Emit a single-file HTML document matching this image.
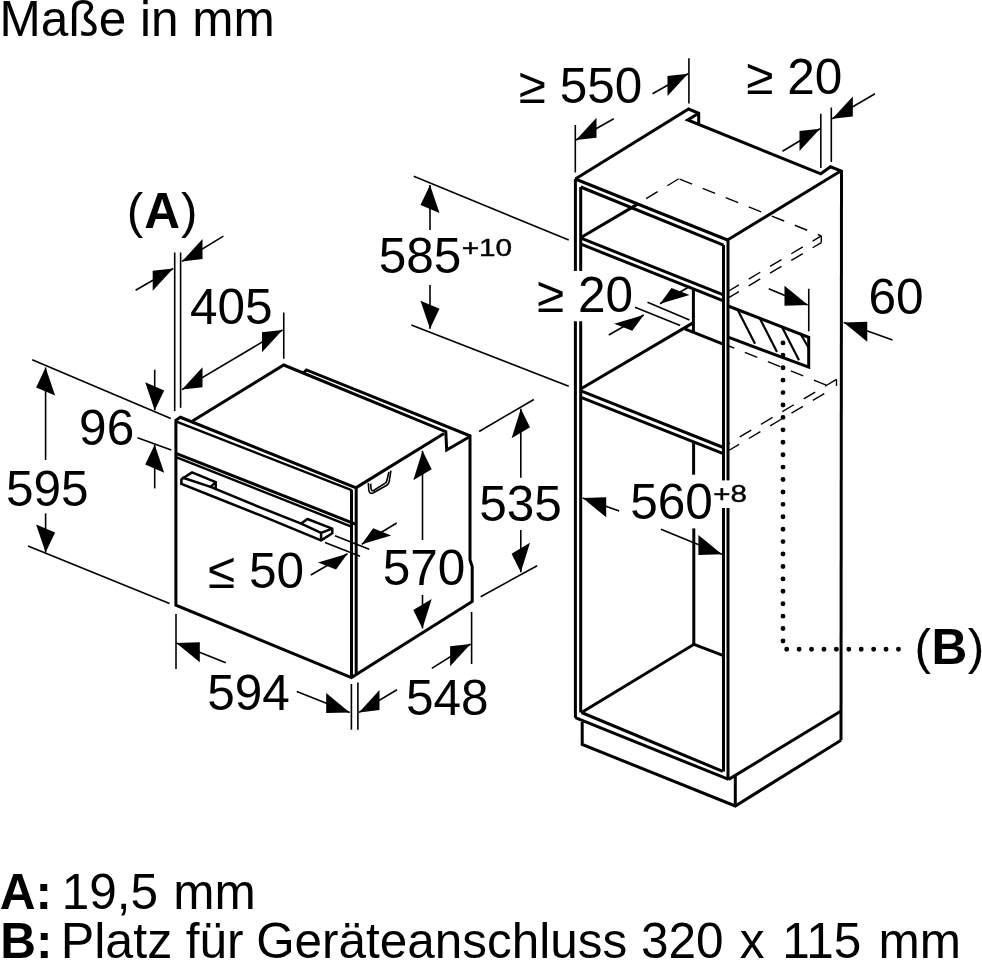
<!DOCTYPE html>
<html lang="de"><head><meta charset="utf-8"><title>Maße in mm</title>
<style>
html,body{margin:0;padding:0;background:#fff;}
svg{display:block;font-family:"Liberation Sans",sans-serif;}
text{fill:#000;}
.k{stroke:#000;stroke-width:3.0;fill:none;stroke-linejoin:miter;stroke-linecap:butt;}
.m{stroke:#000;stroke-width:2.2;fill:none;stroke-linejoin:round;}
.m2{stroke:#000;stroke-width:2.4;fill:none;}
.h{stroke:#000;stroke-width:2.5;fill:none;stroke-linejoin:round;stroke-linecap:round;}
.t{stroke:#000;stroke-width:1.6;fill:none;}
.t2{stroke:#000;stroke-width:1.4;fill:none;}
.d{stroke:#000;stroke-width:1.4;fill:none;stroke-dasharray:13.4 11.4;}
.a{fill:#000;stroke:none;}
.dot{stroke:#000;stroke-width:4.9;stroke-linecap:round;stroke-dasharray:0 12.42;fill:none;}
</style></head><body>
<svg width="982" height="960" viewBox="0 0 982 960">
<rect width="982" height="960" fill="#fff"/>
<text id="t_title" transform="translate(-0.44,35.60) scale(0.9853,1)" font-size="50.3">Maße in mm</text>
<text id="t_A" transform="translate(126.67,228.40) scale(0.9850,1)" font-size="50.3">(<tspan font-weight="bold" dx="1">A</tspan><tspan dx="1">)</tspan></text>
<text id="t_B" transform="translate(914.58,664.10) scale(0.9850,1)" font-size="50.3">(<tspan font-weight="bold" dx="0.5">B</tspan><tspan dx="0.5">)</tspan></text>
<text id="t_405" transform="translate(189.92,324.20) scale(0.9850,1)" font-size="50.3">405</text>
<text id="t_595" transform="translate(5.95,505.70) scale(0.9850,1)" font-size="50.3">595</text>
<text id="t_96" transform="translate(79.12,445.10) scale(0.9850,1)" font-size="50.3">96</text>
<text id="t_le50" transform="translate(208.05,588.10) scale(0.9850,1)" font-size="50.3">≤ 50</text>
<text id="t_570" transform="translate(382.68,585.10) scale(0.9850,1)" font-size="50.3">570</text>
<text id="t_535" transform="translate(479.15,520.70) scale(0.9850,1)" font-size="50.3">535</text>
<text id="t_594" transform="translate(207.18,709.70) scale(0.9850,1)" font-size="50.3">594</text>
<text id="t_548" transform="translate(405.88,715.10) scale(0.9850,1)" font-size="50.3">548</text>
<text id="t_ge550" transform="translate(518.78,103.40) scale(0.9836,1)" font-size="50.3">≥ 550</text>
<text id="t_ge20t" transform="translate(746.33,93.70) scale(0.9850,1)" font-size="50.3">≥ 20</text>
<text id="t_ge20m" transform="translate(536.98,311.80) scale(0.9850,1)" font-size="50.3">≥ 20</text>
<text id="t_60" transform="translate(868.47,313.70) scale(0.9850,1)" font-size="50.3">60</text>
<text id="t_585" transform="translate(378.70,273.40) scale(0.9850,1)" font-size="50.3">585</text>
<g style="filter:grayscale(1)" stroke="#000" stroke-width="0.45"><text id="t_p10" transform="translate(461.70,256.20) scale(1.2146,1)" font-size="24.5">+10</text></g>
<text id="t_560" transform="translate(630.16,519.20) scale(0.9850,1)" font-size="50.3">560</text>
<g style="filter:grayscale(1)" stroke="#000" stroke-width="0.45"><text id="t_p8" transform="translate(713.31,502.00) scale(1.2053,1)" font-size="24.5">+8</text></g>
<text id="t_l1_0" transform="translate(-0.18,908.70) scale(0.9850,1)" font-size="50.3" font-weight="bold">A:</text>
<text id="t_l1_1" transform="translate(61.75,908.70) scale(0.9850,1)" font-size="50.3">19,5</text>
<text id="t_l1_2" transform="translate(173.15,908.70) scale(0.9850,1)" font-size="50.3">mm</text>
<text id="t_l2_0" transform="translate(0.31,957.90) scale(0.9850,1)" font-size="50.3" font-weight="bold">B:</text>
<text id="t_l2_1" transform="translate(60.76,957.90) scale(0.9977,1)" font-size="50.3">Platz</text>
<text id="t_l2_2" transform="translate(185.74,957.90) scale(0.9850,1)" font-size="50.3">für</text>
<text id="t_l2_3" transform="translate(256.14,957.90) scale(0.9836,1)" font-size="50.3">Geräteanschluss</text>
<text id="t_l2_4" transform="translate(640.93,957.90) scale(0.9850,1)" font-size="50.3">320</text>
<text id="t_l2_5" transform="translate(739.74,957.90) scale(0.9850,1)" font-size="50.3">x</text>
<text id="t_l2_6" transform="translate(782.31,957.90) scale(0.9850,1)" font-size="50.3">115</text>
<text id="t_l2_7" transform="translate(878.48,957.90) scale(0.9850,1)" font-size="50.3">mm</text>
<line class="t" x1="174.70" y1="252.50" x2="174.70" y2="411.10"/>
<line class="t" x1="180.60" y1="252.50" x2="180.60" y2="407.80"/>
<line class="t" x1="182.00" y1="261.40" x2="223.40" y2="236.10"/>
<polygon class="a" points="182.00,261.40 202.50,259.10 202.50,239.10"/>
<line class="t" x1="173.20" y1="268.50" x2="135.60" y2="290.20"/>
<polygon class="a" points="173.20,268.50 152.70,290.80 152.70,270.80"/>
<line class="t" x1="182.00" y1="389.60" x2="282.50" y2="330.00"/>
<polygon class="a" points="182.00,389.60 202.50,387.30 202.50,367.30"/>
<polygon class="a" points="282.50,330.00 262.00,352.30 262.00,332.30"/>
<line class="t" x1="283.75" y1="312.50" x2="283.75" y2="358.75"/>
<line class="t" x1="32.20" y1="359.80" x2="170.80" y2="418.40"/>
<line class="t" x1="28.00" y1="546.00" x2="169.50" y2="603.60"/>
<line class="t" x1="137.50" y1="437.80" x2="171.25" y2="450.00"/>
<line class="t" x1="45.60" y1="367.50" x2="45.60" y2="460.00"/>
<polygon class="a" points="45.60,367.50 55.10,395.58 36.10,387.42"/>
<line class="t" x1="45.60" y1="513.40" x2="45.60" y2="552.50"/>
<polygon class="a" points="45.60,552.50 55.10,532.59 36.10,524.41"/>
<line class="t" x1="154.70" y1="369.70" x2="154.70" y2="410.30"/>
<polygon class="a" points="154.70,410.30 164.20,390.38 145.20,382.22"/>
<line class="t" x1="154.70" y1="444.70" x2="154.70" y2="488.40"/>
<polygon class="a" points="154.70,444.70 164.20,472.78 145.20,464.62"/>
<polyline class="k" points="356.10,487.80 180.40,417.30 175.90,420.20 175.90,605.20 351.40,677.60 472.20,601.50"/>
<line class="m2" x1="176.50" y1="421.60" x2="351.60" y2="490.20"/>
<line class="k" x1="351.50" y1="489.70" x2="351.50" y2="677.00"/>
<line class="k" x1="356.20" y1="487.50" x2="356.20" y2="675.00"/>
<line class="k" x1="176.00" y1="453.30" x2="356.00" y2="524.30"/>
<line class="m2" x1="176.70" y1="457.30" x2="352.00" y2="526.80"/>
<polyline class="k" points="192.50,421.00 283.75,365.00 445.80,431.70 446.70,450.00 470.00,436.50"/>
<polyline class="k" points="303.10,373.20 306.40,369.90 470.00,435.80 470.00,560.00 472.20,566.50 472.20,602.50"/>
<line class="k" x1="356.20" y1="487.60" x2="444.00" y2="433.50"/>
<polyline class="h" points="183.00,477.80 210.60,486.90 260.00,507.30 301.20,523.60 321.10,532.80"/>
<polyline class="h" points="181.40,483.80 210.60,495.50 260.00,515.20 320.50,540.20"/>
<polyline class="h" points="181.40,483.80 181.40,479.30 192.10,472.40 215.70,482.10 215.70,489.00"/>
<polyline class="h" points="210.60,486.90 215.70,482.10"/>
<polyline class="h" points="301.20,523.60 307.40,519.00 332.30,528.70 332.30,533.30 321.10,540.40 321.10,532.80 331.60,528.90"/>
<path class="t" d="M368.3,483.1 L368.8,489.9 Q369.3,494.8 373.5,492.8 L386.8,485.2 Q388.8,484 389.3,481 L390.9,470.6"/>
<path class="t" d="M370.6,483.6 L371,488.3 Q371.3,491.8 374,490.2 L384.9,483.4 Q386.6,482.4 387,480 L388.9,471.9"/>
<line class="t" x1="335.00" y1="535.80" x2="369.20" y2="549.20"/>
<line class="t" x1="325.00" y1="542.50" x2="360.00" y2="556.30"/>
<line class="t" x1="361.70" y1="544.20" x2="396.70" y2="523.00"/>
<polygon class="a" points="361.70,544.20 391.20,535.46 373.20,528.35"/>
<line class="t" x1="347.50" y1="553.70" x2="310.80" y2="575.00"/>
<polygon class="a" points="347.50,553.70 336.00,569.55 318.00,562.45"/>
<line class="t" x1="422.50" y1="450.80" x2="422.50" y2="540.00"/>
<polygon class="a" points="422.50,450.80 431.70,469.28 413.30,480.32"/>
<line class="t" x1="422.50" y1="595.00" x2="422.50" y2="628.50"/>
<polygon class="a" points="422.50,628.50 431.70,598.98 413.30,610.02"/>
<line class="t" x1="479.10" y1="431.50" x2="533.80" y2="399.50"/>
<line class="t" x1="480.70" y1="596.70" x2="537.10" y2="565.70"/>
<line class="t" x1="520.80" y1="408.70" x2="520.80" y2="477.70"/>
<polygon class="a" points="520.80,408.70 530.00,427.18 511.60,438.22"/>
<line class="t" x1="520.80" y1="529.90" x2="520.80" y2="572.20"/>
<polygon class="a" points="520.80,572.20 530.00,542.68 511.60,553.72"/>
<line class="t" x1="176.00" y1="614.00" x2="176.00" y2="669.00"/>
<line class="t" x1="351.40" y1="684.00" x2="351.40" y2="729.70"/>
<line class="t" x1="357.90" y1="682.40" x2="357.90" y2="729.70"/>
<line class="t" x1="471.60" y1="612.00" x2="471.60" y2="664.00"/>
<line class="t" x1="176.30" y1="643.00" x2="225.80" y2="662.80"/>
<polygon class="a" points="176.30,643.00 199.80,662.28 199.80,642.28"/>
<line class="t" x1="296.80" y1="691.60" x2="349.70" y2="712.40"/>
<polygon class="a" points="349.70,712.40 326.20,713.12 326.20,693.12"/>
<line class="t" x1="359.00" y1="712.40" x2="397.00" y2="689.80"/>
<polygon class="a" points="359.00,712.40 379.50,710.10 379.50,690.10"/>
<line class="t" x1="431.80" y1="668.40" x2="470.60" y2="644.00"/>
<polygon class="a" points="470.60,644.00 450.10,666.30 450.10,646.30"/>
<line class="t" x1="413.75" y1="176.25" x2="568.75" y2="240.00"/>
<line class="t" x1="411.25" y1="325.00" x2="568.75" y2="386.25"/>
<line class="t" x1="430.00" y1="185.00" x2="430.00" y2="230.00"/>
<polygon class="a" points="430.00,185.00 439.50,213.09 420.50,204.91"/>
<line class="t" x1="430.00" y1="285.00" x2="430.00" y2="328.75"/>
<polygon class="a" points="430.00,328.75 439.50,308.83 420.50,300.67"/>
<line class="k" x1="575.40" y1="179.00" x2="575.40" y2="271.00"/>
<line class="k" x1="575.40" y1="321.25" x2="575.40" y2="717.70"/>
<line class="k" x1="580.70" y1="187.00" x2="580.70" y2="271.00"/>
<line class="k" x1="580.70" y1="321.25" x2="580.70" y2="712.50"/>
<polyline class="k" points="575.30,179.00 688.60,109.00 698.70,113.30 698.70,123.70"/>
<polyline class="k" points="698.70,113.30 687.70,120.00 820.80,173.80 830.50,166.80 841.50,171.10"/>
<line class="k" x1="575.30" y1="179.00" x2="727.50" y2="240.00"/>
<line class="k" x1="580.70" y1="187.00" x2="723.50" y2="245.20"/>
<line class="k" x1="727.50" y1="240.00" x2="840.30" y2="171.30"/>
<line class="k" x1="723.50" y1="245.00" x2="723.50" y2="480.40"/>
<line class="k" x1="723.50" y1="508.00" x2="723.50" y2="771.40"/>
<line class="k" x1="728.00" y1="240.00" x2="728.00" y2="480.40"/>
<line class="k" x1="728.00" y1="508.00" x2="728.00" y2="779.40"/>
<polyline class="k" points="841.50,170.00 841.00,740.20"/>
<line class="k" x1="581.00" y1="238.20" x2="723.50" y2="294.90"/>
<line class="k" x1="581.00" y1="244.20" x2="723.50" y2="300.80"/>
<line class="k" x1="581.00" y1="237.50" x2="638.50" y2="203.60"/>
<line class="k" x1="693.40" y1="289.50" x2="693.40" y2="332.50"/>
<line class="k" x1="684.80" y1="328.90" x2="722.50" y2="343.90"/>
<line class="k" x1="581.00" y1="388.75" x2="693.40" y2="322.60"/>
<line class="k" x1="581.00" y1="390.90" x2="723.30" y2="447.50"/>
<line class="k" x1="581.00" y1="397.40" x2="723.30" y2="453.60"/>
<line class="k" x1="693.60" y1="442.80" x2="693.60" y2="474.70"/>
<line class="k" x1="693.80" y1="528.40" x2="693.80" y2="644.50"/>
<polyline class="k" points="581.50,712.50 694.00,644.30 722.80,655.40"/>
<line class="k" x1="575.30" y1="717.70" x2="728.70" y2="779.40"/>
<line class="k" x1="581.50" y1="712.50" x2="722.80" y2="771.40"/>
<line class="k" x1="728.70" y1="779.40" x2="841.00" y2="711.00"/>
<polyline class="k" points="582.20,721.90 582.20,744.40 735.30,806.00 841.00,740.20"/>
<line class="k" x1="735.30" y1="776.00" x2="735.30" y2="806.00"/>
<line class="d" x1="678.75" y1="178.75" x2="821.30" y2="235.90" stroke-dashoffset="-1"/>
<line class="d" x1="678.75" y1="178.75" x2="640.00" y2="202.50" stroke-dashoffset="0"/>
<line class="d" x1="821.30" y1="235.90" x2="728.75" y2="291.00" stroke-dashoffset="3.3"/>
<line class="d" x1="821.30" y1="242.60" x2="728.75" y2="297.70" stroke-dashoffset="3.3"/>
<line class="t2" x1="821.30" y1="235.90" x2="821.30" y2="242.60"/>
<line class="d" x1="826.30" y1="385.20" x2="728.80" y2="346.00" stroke-dashoffset="0"/>
<line class="t2" x1="836.50" y1="379.40" x2="836.50" y2="385.90"/>
<line class="d" x1="836.50" y1="379.40" x2="728.75" y2="443.50" stroke-dashoffset="0"/>
<line class="d" x1="824.30" y1="393.60" x2="728.75" y2="450.50" stroke-dashoffset="0"/>
<polyline class="k" points="728.75,306.25 808.70,337.40 808.70,367.20 728.80,337.40"/>
<line class="m" x1="737.50" y1="309.53" x2="755.00" y2="343.79"/>
<line class="m" x1="759.50" y1="317.78" x2="777.00" y2="352.04"/>
<line class="m" x1="781.50" y1="326.03" x2="799.00" y2="360.29"/>
<line class="m" x1="800.00" y1="333.00" x2="808.75" y2="348.00"/>
<line class="t" x1="808.75" y1="288.75" x2="808.75" y2="331.25"/>
<line class="t" x1="768.75" y1="288.75" x2="807.50" y2="305.00"/>
<polygon class="a" points="808.00,305.00 784.50,305.72 784.50,285.72"/>
<line class="t" x1="843.75" y1="322.50" x2="892.50" y2="340.00"/>
<polygon class="a" points="843.75,322.50 867.25,341.78 867.25,321.78"/>
<line class="t" x1="688.90" y1="58.30" x2="688.90" y2="103.60"/>
<line class="t" x1="688.00" y1="73.75" x2="652.50" y2="93.75"/>
<polygon class="a" points="688.00,73.75 667.50,96.05 667.50,76.05"/>
<line class="t" x1="575.30" y1="125.00" x2="575.30" y2="172.50"/>
<line class="t" x1="576.00" y1="140.00" x2="613.75" y2="118.75"/>
<polygon class="a" points="576.00,140.00 596.50,137.70 596.50,117.70"/>
<line class="t" x1="820.80" y1="113.75" x2="820.80" y2="168.00"/>
<line class="t" x1="831.30" y1="107.50" x2="831.30" y2="162.00"/>
<line class="t" x1="832.30" y1="118.75" x2="875.00" y2="93.75"/>
<polygon class="a" points="832.30,118.75 852.80,116.45 852.80,96.45"/>
<line class="t" x1="820.00" y1="128.75" x2="782.50" y2="151.25"/>
<polygon class="a" points="820.00,128.75 799.50,151.05 799.50,131.05"/>
<line class="t" x1="647.50" y1="302.20" x2="689.50" y2="319.90"/>
<line class="t" x1="635.00" y1="307.30" x2="680.20" y2="325.40"/>
<line class="t" x1="660.00" y1="303.75" x2="690.00" y2="286.25"/>
<polygon class="a" points="660.00,303.75 689.50,295.00 671.50,287.89"/>
<line class="t" x1="643.75" y1="315.00" x2="608.75" y2="335.00"/>
<polygon class="a" points="643.75,315.00 632.25,330.86 614.25,323.75"/>
<line class="t" x1="582.70" y1="498.00" x2="619.20" y2="511.00"/>
<polygon class="a" points="582.70,498.00 606.20,517.28 606.20,497.28"/>
<line class="t" x1="660.90" y1="529.20" x2="721.90" y2="554.30"/>
<polygon class="a" points="721.90,554.30 698.40,555.02 698.40,535.02"/>
<path class="dot" d="M783,342.9 V642"/>
<path class="dot" d="M786.7,649.3 H900"/>
</svg>
</body></html>
